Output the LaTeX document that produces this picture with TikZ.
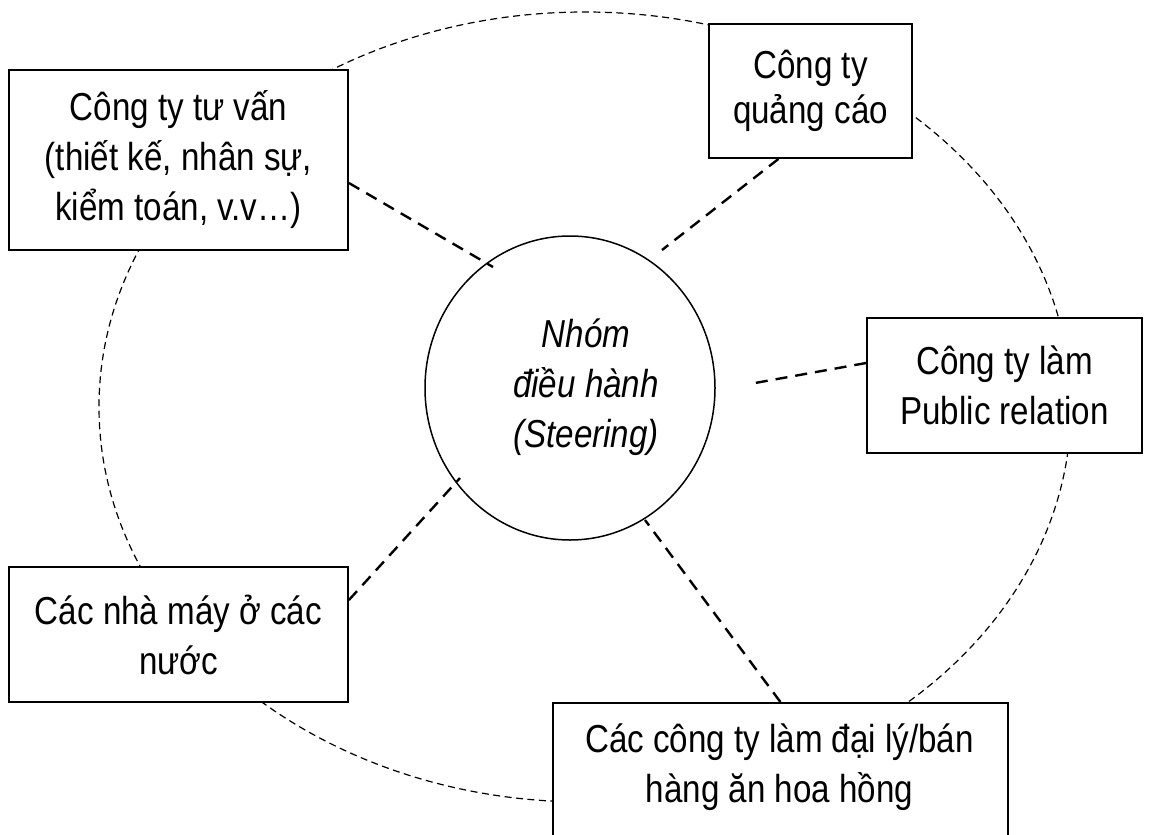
\documentclass[tikz,border=0pt]{standalone}
\usepackage{fontspec}
\setmainfont{Liberation Sans}[FakeStretch=0.85]
\usetikzlibrary{shapes.geometric}
\begin{document}
\begin{tikzpicture}[x=1pt,y=-1pt,
  box/.style={draw, line width=1.8pt, fill=white, align=center, inner sep=0pt},
  link/.style={line width=2.4pt, dash pattern=on 12pt off 8pt},
  orbit/.style={line width=1.2pt, dash pattern=on 7pt off 4.5pt},
  txt/.style={font=\fontsize{39}{50}\selectfont}]
\useasboundingbox (0,0) rectangle (1151,835);
\clip (0,0) rectangle (1151,835);
\draw[orbit] (585,407) ellipse [x radius=486pt, y radius=395pt];
\node[box, txt, minimum width=339pt, minimum height=180pt] (b1) at (178.5,160) {Công ty tư vấn\\(thiết kế, nhân sự,\\kiểm toán, v.v…)};
\node[box, font=\fontsize{39}{45}\selectfont, minimum width=203pt, minimum height=134pt] (b2) at (810.5,91) {Công ty\\quảng cáo};
\node[box, txt, minimum width=275pt, minimum height=135pt] (b3) at (1004.5,385.5) {Công ty làm\\Public relation};
\node[box, txt, minimum width=339pt, minimum height=135pt] (b4) at (178.5,634.5) {Các nhà máy ở các\\nước};
\node[box, minimum width=455pt, minimum height=200pt, anchor=north west] (b5) at (552,702) {};
\node[txt, align=center, inner sep=0pt] (b5t) at (779.5,767) {Các công ty làm đại lý/bán\\hàng ăn hoa hồng};
\node[ellipse, draw, line width=1.5pt, minimum width=290pt, minimum height=304pt, inner sep=0pt] (c) at (570,388) {};
\node[align=center, inner sep=0pt, font=\fontsize{39}{50}\selectfont\itshape] (ct) at (586,387) {Nhóm\\điều hành\\(Steering)};
\coordinate (e1) at (493,267);
\coordinate (e2) at (662,250);
\coordinate (e3) at (755,383);
\coordinate (e4) at (460,478);
\coordinate (e5) at (645,520);
\draw[link] ([yshift=-23pt]b1.east) -- (e1);
\draw[link] ([xshift=-32pt]b2.south) -- (e2);
\draw[link] ([yshift=22.5pt]b3.west) -- (e3);
\draw[link] ([yshift=34.5pt]b4.east) -- (e4);
\draw[link] (b5.north) -- (e5);
\end{tikzpicture}
\end{document}
